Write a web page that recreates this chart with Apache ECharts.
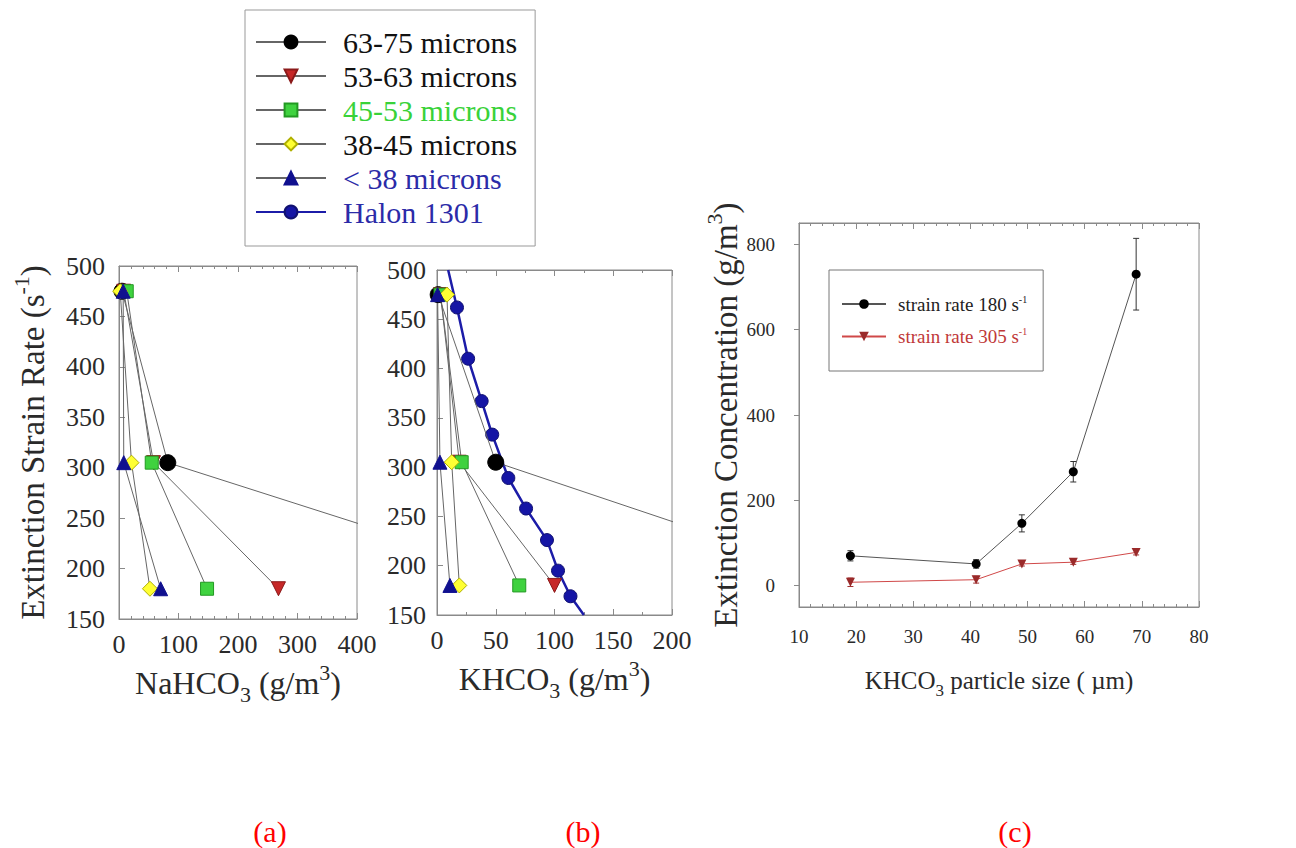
<!DOCTYPE html>
<html><head><meta charset="utf-8">
<script src="https://cdn.jsdelivr.net/npm/echarts@6/dist/echarts.min.js"></script>
<style>html,body{margin:0;padding:0;background:#fff}#c{width:1296px;height:848px}</style>
</head><body><div id="c"></div>
<script>
// ---------- DATA ----------
const sizeClasses = ['63-75 microns', '53-63 microns', '45-53 microns', '38-45 microns', '< 38 microns'];
const halonName = 'Halon 1301';
const strainRates = [475, 305, 180];           // extinction strain rate (1/s)
// Panel (a): NaHCO3 extinction concentration (g/m3) at each strain rate
const na6375 = [5, 82, 745];
const na5363 = [8, 58, 268];
const na4553 = [13, 55, 148];
const na3845 = [2, 21, 52];
const na38 = [7, 8, 70];
// Panel (b): KHCO3 extinction concentration (g/m3)
const k6375 = [1, 50, 362];
const k5363 = [3, 19, 100];
const k4553 = [3, 21, 70];
const k3845 = [8.5, 12.5, 19];
const k38 = [0.5, 2.5, 11];
// Halon 1301 (panel b)
const halonConc = [9.5, 17, 26.5, 38, 47, 60.7, 75.8, 93.6, 103, 113.6, 125];
const halonRate = [500, 462, 410, 367, 333, 289, 258, 226, 195, 169, 150];
// Panel (c): KHCO3 particle size vs extinction concentration
const particleSize = [19, 41, 49, 58, 69];
const conc180 = [70, 51, 146, 267, 730];
const err180 = [12, 10, 20, 24, 84];
const conc305 = [8, 14, 51, 55, 78];
const err305 = [10, 8, 5, 5, 6];
const legendC = ['strain rate 180 s', 'strain rate 305 s'];
// tick labels
const ticksA = [0, 100, 200, 300, 400];
const ticksB = [0, 50, 100, 150, 200];
const ticksC = [0, 200, 400, 600, 800];

// ---------- STYLE ----------
const SERIF = 'Liberation Serif';
const frame = '#8a8a8a';
const txt = '#2a2a2a';
const markers = [
  {symbol: 'circle', size: 16, color: '#000000', border: '#000000', rotate: 0},
  {symbol: 'triangle', size: 14, color: '#c62828', border: '#8b1a1a', rotate: 180},
  {symbol: 'rect', size: 13, color: '#3fd23f', border: '#229922', rotate: 0},
  {symbol: 'diamond', size: 15, color: '#ffff33', border: '#b0b000', rotate: 0},
  {symbol: 'triangle', size: 14, color: '#10108f', border: '#10108f', rotate: 0}
];
const legendColors = ['#111', '#111', '#39d239', '#111', '#2b2ba8', '#2b2ba8'];

const naData = [na6375, na5363, na4553, na3845, na38];
const kData = [k6375, k5363, k4553, k3845, k38];

function sizeSeries(i, vals, xi, yi) {
  const m = markers[i];
  return {
    type: 'line', name: sizeClasses[i], xAxisIndex: xi, yAxisIndex: yi,
    data: vals.map((v, j) => [v, strainRates[j]]),
    symbol: m.symbol, symbolSize: m.size, symbolRotate: m.rotate,
    showAllSymbol: true, clip: true, animation: false,
    lineStyle: {color: '#666', width: 1},
    itemStyle: {color: m.color, borderColor: m.border, borderWidth: 1},
    z: 3
  };
}

const series = [];
naData.forEach((v, i) => series.push(sizeSeries(i, v, 0, 0)));
kData.forEach((v, i) => series.push(sizeSeries(i, v, 2, 1)));
series.push({
  type: 'line', name: halonName, xAxisIndex: 2, yAxisIndex: 1,
  data: halonConc.map((c, j) => {
    const d = {value: [c, halonRate[j]]};
    if (j === 0 || j === halonConc.length - 1) d.symbol = 'none';
    return d;
  }),
  symbol: 'circle', symbolSize: 13, clip: true, animation: false,
  lineStyle: {color: '#1c1ca8', width: 2.5},
  itemStyle: {color: '#1515a5', borderColor: '#101070', borderWidth: 1},
  z: 2
});

function errSeries(vals, errs, color) {
  return {
    type: 'custom', xAxisIndex: 4, yAxisIndex: 2, animation: false, z: 4,
    data: particleSize.map((x, i) => [x, vals[i] - errs[i], vals[i] + errs[i]]),
    encode: {x: 0, y: [1, 2]},
    renderItem(params, api) {
      const x = api.value(0);
      const lo = api.coord([x, api.value(1)]);
      const hi = api.coord([x, api.value(2)]);
      const w = 3;
      const st = {stroke: color, lineWidth: 1};
      return {type: 'group', children: [
        {type: 'line', shape: {x1: lo[0], y1: lo[1], x2: hi[0], y2: hi[1]}, style: st},
        {type: 'line', shape: {x1: lo[0] - w, y1: lo[1], x2: lo[0] + w, y2: lo[1]}, style: st},
        {type: 'line', shape: {x1: hi[0] - w, y1: hi[1], x2: hi[0] + w, y2: hi[1]}, style: st}
      ]};
    }
  };
}
series.push(errSeries(conc180, err180, '#333'));
series.push(errSeries(conc305, err305, '#a03030'));
series.push({
  type: 'line', name: legendC[0], xAxisIndex: 4, yAxisIndex: 2, animation: false,
  data: particleSize.map((x, i) => [x, conc180[i]]),
  symbol: 'circle', symbolSize: 9,
  lineStyle: {color: '#555', width: 1}, itemStyle: {color: '#000'}, z: 5
});
series.push({
  type: 'line', name: legendC[1], xAxisIndex: 4, yAxisIndex: 2, animation: false,
  data: particleSize.map((x, i) => [x, conc305[i]]),
  symbol: 'triangle', symbolRotate: 180, symbolSize: 9,
  lineStyle: {color: '#d04848', width: 1}, itemStyle: {color: '#9a2a2a'}, z: 5
});

const nameRich = (fs) => ({
  m: {fontSize: fs, fontFamily: SERIF, color: txt, lineHeight: fs + 12},
  sub: {fontSize: Math.round(fs * 0.68), fontFamily: SERIF, color: txt, lineHeight: Math.round(fs * 0.68), verticalAlign: 'bottom'},
  sup: {fontSize: Math.round(fs * 0.68), fontFamily: SERIF, color: txt, lineHeight: Math.round(fs * 0.68), verticalAlign: 'top'}
});

function xAx(grid, min, max, interval, minorSplit, pos, name, nameGap, labelFs, labelMargin, nameFs) {
  const ax = {
    type: 'value', gridIndex: grid, position: pos, min, max, interval,
    axisLine: {show: true, onZero: false, lineStyle: {color: frame}},
    axisTick: {show: true, inside: true, length: 6, lineStyle: {color: frame}},
    minorTick: {show: true, splitNumber: minorSplit, length: 3, lineStyle: {color: frame}},
    splitLine: {show: false},
    axisLabel: {show: pos === 'bottom', fontFamily: SERIF, fontSize: labelFs, color: txt, margin: labelMargin, hideOverlap: false}
  };
  if (name) {
    ax.name = name; ax.nameLocation = 'middle'; ax.nameGap = nameGap;
    ax.nameTextStyle = {rich: nameRich(nameFs)};
  }
  return ax;
}

const option = {
  backgroundColor: '#fff',
  animation: false,
  grid: [
    {left: 119, top: 266, width: 238, height: 353, show: true, borderColor: frame, borderWidth: 1, backgroundColor: 'transparent'},
    {left: 437, top: 270, width: 235, height: 345, show: true, borderColor: frame, borderWidth: 1, backgroundColor: 'transparent'},
    {left: 799, top: 223, width: 400, height: 384, show: true, borderColor: frame, borderWidth: 1, backgroundColor: 'transparent'}
  ],
  xAxis: [
    xAx(0, 0, 400, 100, 5, 'bottom', '{m|NaHCO}{sub|3}{m| (g/m}{sup|3}{m|)}', 42, 26, 12, 32),
    xAx(0, 0, 400, 100, 5, 'top'),
    xAx(1, 0, 200, 50, 2, 'bottom', '{m|KHCO}{sub|3}{m| (g/m}{sup|3}{m|)}', 42, 26, 12, 32),
    xAx(1, 0, 200, 50, 2, 'top'),
    xAx(2, 10, 80, 10, 5, 'bottom', '{m|KHCO}{sub|3}{m| particle size ( µm)}', 55, 19, 20, 25),
    xAx(2, 10, 80, 10, 5, 'top')
  ],
  yAxis: [
    {
      type: 'value', gridIndex: 0, min: 150, max: 500, interval: 50,
      axisLine: {show: true, onZero: false, lineStyle: {color: frame}},
      axisTick: {show: true, inside: true, length: 6, lineStyle: {color: frame}},
      splitLine: {show: false},
      axisLabel: {fontFamily: SERIF, fontSize: 26, color: txt, margin: 14},
      name: '{m|Extinction Strain Rate (s}{sup|-1}{m|)}', nameLocation: 'middle', nameRotate: 90, nameGap: 64,
      nameTextStyle: {rich: nameRich(33)}
    },
    {
      type: 'value', gridIndex: 1, min: 150, max: 500, interval: 50,
      axisLine: {show: true, onZero: false, lineStyle: {color: frame}},
      axisTick: {show: true, inside: true, length: 6, lineStyle: {color: frame}},
      splitLine: {show: false},
      axisLabel: {fontFamily: SERIF, fontSize: 26, color: txt, margin: 11}
    },
    {
      type: 'value', gridIndex: 2, min: -50, max: 850,
      axisLine: {show: true, onZero: false, lineStyle: {color: frame}},
      axisTick: {show: true, inside: false, length: 5, customValues: ticksC, lineStyle: {color: frame}},
      splitLine: {show: false},
      axisLabel: {fontFamily: SERIF, fontSize: 19, color: txt, margin: 24, customValues: ticksC},
      name: '{m|Extinction Concentration (g/m}{sup|3}{m|)}', nameLocation: 'middle', nameRotate: 90, nameGap: 50,
      nameTextStyle: {rich: nameRich(33)}
    }
  ],
  legend: [
    {
      data: sizeClasses.concat([halonName]).map((n, i) => ({name: n, textStyle: {color: legendColors[i]}})),
      orient: 'vertical', left: 245, top: 10,
      padding: [16, 18, 18, 10],
      itemWidth: 70, itemHeight: 16, itemGap: 2,
      borderColor: '#999', borderWidth: 1, backgroundColor: '#fff',
      selectedMode: false,
      textStyle: {fontFamily: SERIF, fontSize: 30, lineHeight: 32, color: '#111', padding: [0, 0, 0, 12]}
    },
    {
      data: legendC.map((n, i) => ({name: n, textStyle: {color: i === 0 ? '#222' : '#c03838'}})),
      orient: 'vertical', left: 829, top: 270,
      padding: [24, 16, 25, 12],
      itemWidth: 44, itemHeight: 12, itemGap: 13,
      borderColor: '#777', borderWidth: 1,
      selectedMode: false,
      formatter: (n) => '{t|' + n + '}{s|-1}',
      textStyle: {
        fontFamily: SERIF, fontSize: 19, padding: [0, 0, 0, 7],
        rich: {
          t: {fontFamily: SERIF, fontSize: 19, lineHeight: 20},
          s: {fontFamily: SERIF, fontSize: 10, lineHeight: 10, verticalAlign: 'top'}
        }
      }
    }
  ],
  graphic: [
    {type: 'text', style: {text: '(a)', x: 270, y: 831, align: 'center', verticalAlign: 'middle', fontFamily: SERIF, fontSize: 30, fill: '#ff0000'}},
    {type: 'text', style: {text: '(b)', x: 583, y: 831, align: 'center', verticalAlign: 'middle', fontFamily: SERIF, fontSize: 30, fill: '#ff0000'}},
    {type: 'text', style: {text: '(c)', x: 1015, y: 831, align: 'center', verticalAlign: 'middle', fontFamily: SERIF, fontSize: 30, fill: '#ff0000'}}
  ],
  series
};

const chart = echarts.init(document.getElementById('c'), null, {renderer: 'svg'});
chart.setOption(option);
</script>
</body></html>
